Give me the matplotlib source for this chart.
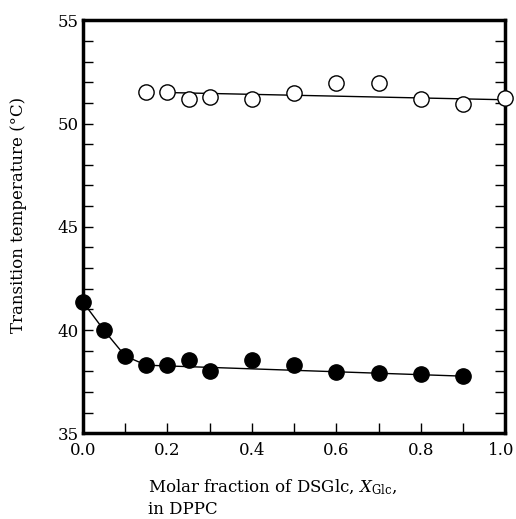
import matplotlib
matplotlib.use("Agg")
import matplotlib.pyplot as plt
import matplotlib.transforms as mtransforms
import numpy as np

# gel-to-liquid crystalline (open) and lower transition (filled)
x_open = [0.15, 0.2, 0.25, 0.3, 0.4, 0.5, 0.6, 0.7, 0.8, 0.9, 1.0]
t_open = [51.52, 51.52, 51.18, 51.27, 51.18, 51.5, 51.95, 51.95, 51.18, 50.95, 51.22]
fit_open_x = [0.2, 1.0]
fit_open_y = [51.5, 51.15]

x_fill = [0.0, 0.05, 0.1, 0.15, 0.2, 0.25, 0.3, 0.4, 0.5, 0.6, 0.7, 0.8, 0.9]
t_fill = [41.35, 39.98, 38.74, 38.32, 38.32, 38.57, 38.0, 38.57, 38.32, 37.97, 37.92, 37.89, 37.76]
fit_fill_x = [0.0, 0.05, 0.1, 0.15, 0.9]
fit_fill_y = [41.35, 39.98, 38.74, 38.3, 37.77]

plt.rcParams["font.family"] = ["DejaVu Serif"]
plt.rcParams["mathtext.fontset"] = "dejavuserif"

fig = plt.figure(figsize=(5.16, 5.19), dpi=100)
ax = fig.add_axes([0.161, 0.165, 0.818, 0.796])

ax.plot(fit_open_x, fit_open_y, color="black", lw=1.0, zorder=2)
ax.plot(fit_fill_x, fit_fill_y, color="black", lw=1.0, zorder=2)
ax.plot(x_open, t_open, "o", ms=11, mfc="white", mec="black", mew=1.0,
        zorder=3, clip_on=False)
ax.plot(x_fill, t_fill, "o", ms=11, mfc="black", mec="black", zorder=3,
        clip_on=False)

ax.set_xlim(0, 1.0)
ax.set_ylim(35, 55)
ax.set_xticks(np.arange(0, 1.01, 0.2))
ax.set_xticks(np.arange(0, 1.01, 0.1), minor=True)
ax.set_yticks([35, 40, 45, 50, 55])
ax.set_yticks(np.arange(35, 55.1, 1), minor=True)
ax.xaxis.set_major_formatter(matplotlib.ticker.FormatStrFormatter("%.1f"))

for s in ax.spines.values():
    s.set_linewidth(2.5)
ax.tick_params(which="both", direction="in", right=True, top=False,
               width=1.0, labelsize=12, pad=4)
ax.tick_params(which="major", length=7)
ax.tick_params(which="minor", length=7)
ax.tick_params(axis="x", pad=6)
ax.tick_params(axis="y", pad=3)

# last x label sits a little left of its tick, as in the original
fig.canvas.draw()
last = ax.get_xticklabels()[-1]
last.set_transform(last.get_transform() +
                   mtransforms.ScaledTranslation(-4 / 100, 0, fig.dpi_scale_trans))

fig.text(0.287, 0.062, r"Molar fraction of DSGlc, $X_{\rm Glc}$,", fontsize=12,
         ha="left", va="center")
fig.text(0.287, 0.018, "in DPPC", fontsize=12, ha="left", va="center")
fig.text(0.035, 1 - 215 / 519, "Transition temperature (\u00b0C)", fontsize=12,
         rotation=90, ha="center", va="center")

fig.savefig("out.png", dpi=100)
